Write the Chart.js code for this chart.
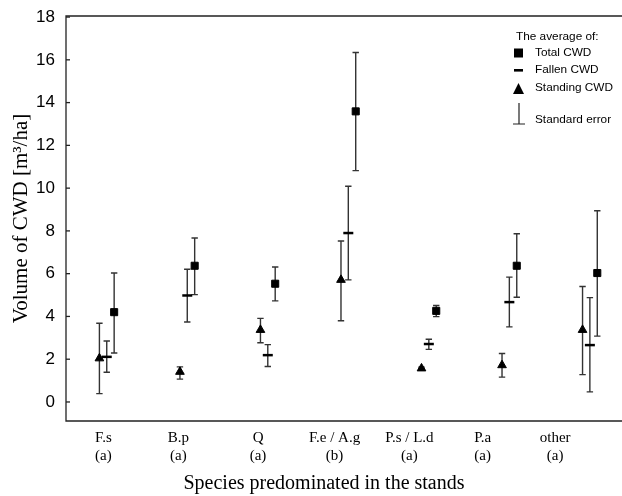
<!DOCTYPE html>
<html lang="en">
<head>
  <meta charset="UTF-8" />
  <title>Volume of CWD</title>
  <script src="https://cdn.jsdelivr.net/npm/chart.js"></script>
  <style>
    html, body { margin: 0; padding: 0; background: #fff; }
    #wrap { width: 622px; height: 496px; }
  </style>
</head>
<body>
  <div id="wrap"><canvas id="cwdChart" width="622" height="496"></canvas></div>

  <script>
    // categories and x tick label positions (group units)
    const categories = ['F.s', 'B.p', 'Q', 'F.e / A.g', 'P.s / L.d', 'P.a', 'other'];
    const groups = ['(a)', '(a)', '(a)', '(b)', '(a)', '(a)', '(a)'];
    const labelPos = [0.05, 0.98, 1.97, 2.92, 3.85, 4.76, 5.66];
    const yTicks = [0, 2, 4, 6, 8, 10, 12, 14, 16, 18];

    // means and standard error limits
    const standingMean = [2.04, 1.41, 3.37, 5.71, 1.57, 1.72, 3.37];
    const standingLow  = [0.39, 1.07, 2.77, 3.80, 1.51, 1.16, 1.28];
    const standingHigh = [3.68, 1.64, 3.91, 7.53, 1.63, 2.27, 5.40];

    const fallenMean = [2.11, 4.98, 2.19, 7.90, 2.71, 4.67, 2.66];
    const fallenLow  = [1.39, 3.74, 1.66, 5.71, 2.46, 3.51, 0.47];
    const fallenHigh = [2.85, 6.21, 2.68, 10.09, 2.93, 5.84, 4.88];

    const totalMean = [4.20, 6.37, 5.53, 13.59, 4.26, 6.37, 6.03];
    const totalLow  = [2.29, 5.02, 4.73, 10.82, 3.99, 4.90, 3.08];
    const totalHigh = [6.03, 7.67, 6.31, 16.34, 4.51, 7.87, 8.94];

    const offsets = { standing: 0, fallen: 0.091, total: 0.183 };

    function series(mean, low, high, off) {
      return mean.map((v, i) => ({ x: i + off, y: v, lo: low[i], hi: high[i] }));
    }

    const errorBars = {
      id: 'errorBars',
      beforeDatasetsDraw(chart) {
        const { ctx, scales: { x, y } } = chart;
        ctx.save();
        ctx.strokeStyle = '#333';
        ctx.lineWidth = 1.4;
        chart.data.datasets.forEach(ds => {
          ds.data.forEach(p => {
            const px = x.getPixelForValue(p.x);
            const top = y.getPixelForValue(p.hi);
            const bot = y.getPixelForValue(p.lo);
            ctx.beginPath();
            ctx.moveTo(px, top); ctx.lineTo(px, bot);
            ctx.moveTo(px - 3.2, top); ctx.lineTo(px + 3.2, top);
            ctx.moveTo(px - 3.2, bot); ctx.lineTo(px + 3.2, bot);
            ctx.stroke();
          });
        });
        ctx.restore();
      }
    };

    const frame = {
      id: 'frame',
      afterDraw(chart) {
        const { ctx, chartArea: a, scales: { y } } = chart;
        ctx.save();
        ctx.strokeStyle = '#222';
        ctx.lineWidth = 1.3;
        ctx.beginPath();
        ctx.moveTo(chart.width, a.top); ctx.lineTo(a.left, a.top);
        ctx.lineTo(a.left, a.bottom); ctx.lineTo(chart.width, a.bottom);
        ctx.stroke();
        // inward y ticks
        yTicks.forEach(t => {
          const py = y.getPixelForValue(t);
          ctx.beginPath();
          ctx.moveTo(a.left, py); ctx.lineTo(a.left + 4, py);
          ctx.stroke();
        });

        // x axis title (sits a bit left of the plot centre in the original)
        ctx.fillStyle = '#000';
        ctx.font = '20px "Liberation Serif", "Times New Roman", serif';
        ctx.textAlign = 'center';
        ctx.textBaseline = 'middle';
        ctx.fillText('Species predominated in the stands', 324, 484);

        // legend
        ctx.textAlign = 'left';
        ctx.font = '11.8px "Liberation Sans", Arial, sans-serif';
        ctx.fillText('The average of:', 516, 37);
        ctx.fillText('Total CWD', 535, 53);
        ctx.fillText('Fallen CWD', 535, 70);
        ctx.fillText('Standing CWD', 535, 88);
        ctx.fillText('Standard error', 535, 120);
        ctx.fillRect(514, 48.5, 9, 9);
        ctx.fillRect(514, 69, 9, 2.6);
        ctx.beginPath();
        ctx.moveTo(518.5, 83); ctx.lineTo(524, 94); ctx.lineTo(513, 94);
        ctx.closePath(); ctx.fill();
        ctx.beginPath();
        ctx.lineWidth = 1.2;
        ctx.moveTo(519, 103); ctx.lineTo(519, 124);
        ctx.moveTo(513, 124); ctx.lineTo(525, 124);
        ctx.stroke();
        ctx.restore();
      }
    };

    new Chart('cwdChart', {
      type: 'scatter',
      data: {
        datasets: [
          {
            label: 'Standing CWD',
            data: series(standingMean, standingLow, standingHigh, offsets.standing),
            pointStyle: 'triangle', pointRadius: 5, backgroundColor: '#000', borderColor: '#000', borderWidth: 1
          },
          {
            label: 'Fallen CWD',
            data: series(fallenMean, fallenLow, fallenHigh, offsets.fallen),
            pointStyle: 'line', pointRadius: 5, backgroundColor: '#000', borderColor: '#000', borderWidth: 2.5
          },
          {
            label: 'Total CWD',
            data: series(totalMean, totalLow, totalHigh, offsets.total),
            pointStyle: 'rect', pointRadius: 5, backgroundColor: '#000', borderColor: '#000', borderWidth: 1
          }
        ]
      },
      options: {
        responsive: false,
        animation: false,
        layout: { autoPadding: false, padding: { top: 16, right: 0, left: 0, bottom: 0 } },
        plugins: { legend: { display: false }, tooltip: { enabled: false } },
        scales: {
          x: {
            type: 'linear',
            min: -0.415,
            max: 6.49,
            grid: { display: false },
            border: { display: false },
            afterBuildTicks(scale) { scale.ticks = labelPos.map(v => ({ value: v })); },
            afterFit(scale) { scale.height = 75; },
            ticks: {
              autoSkip: false,
              maxRotation: 0,
              padding: 0,
              color: '#000',
              font: { family: '"Liberation Serif", "Times New Roman", serif', size: 15, lineHeight: 1.2 },
              callback(value, index) { return [categories[index], groups[index]]; }
            },
            title: { display: false }
          },
          y: {
            min: -0.89,
            max: 18.05,
            grid: { display: false },
            border: { display: false },
            afterBuildTicks(scale) { scale.ticks = yTicks.map(v => ({ value: v })); },
            afterFit(scale) { scale.width = 66; },
            ticks: {
              padding: 3,
              color: '#000',
              font: { family: '"Liberation Sans", Arial, sans-serif', size: 17 }
            },
            title: {
              display: true,
              text: 'Volume of CWD [m\u00B3/ha]',
              color: '#000',
              font: { family: '"Liberation Serif", "Times New Roman", serif', size: 21 },
              padding: { top: 9, bottom: 0 }
            }
          }
        }
      },
      plugins: [errorBars, frame]
    });
  </script>
</body>
</html>
